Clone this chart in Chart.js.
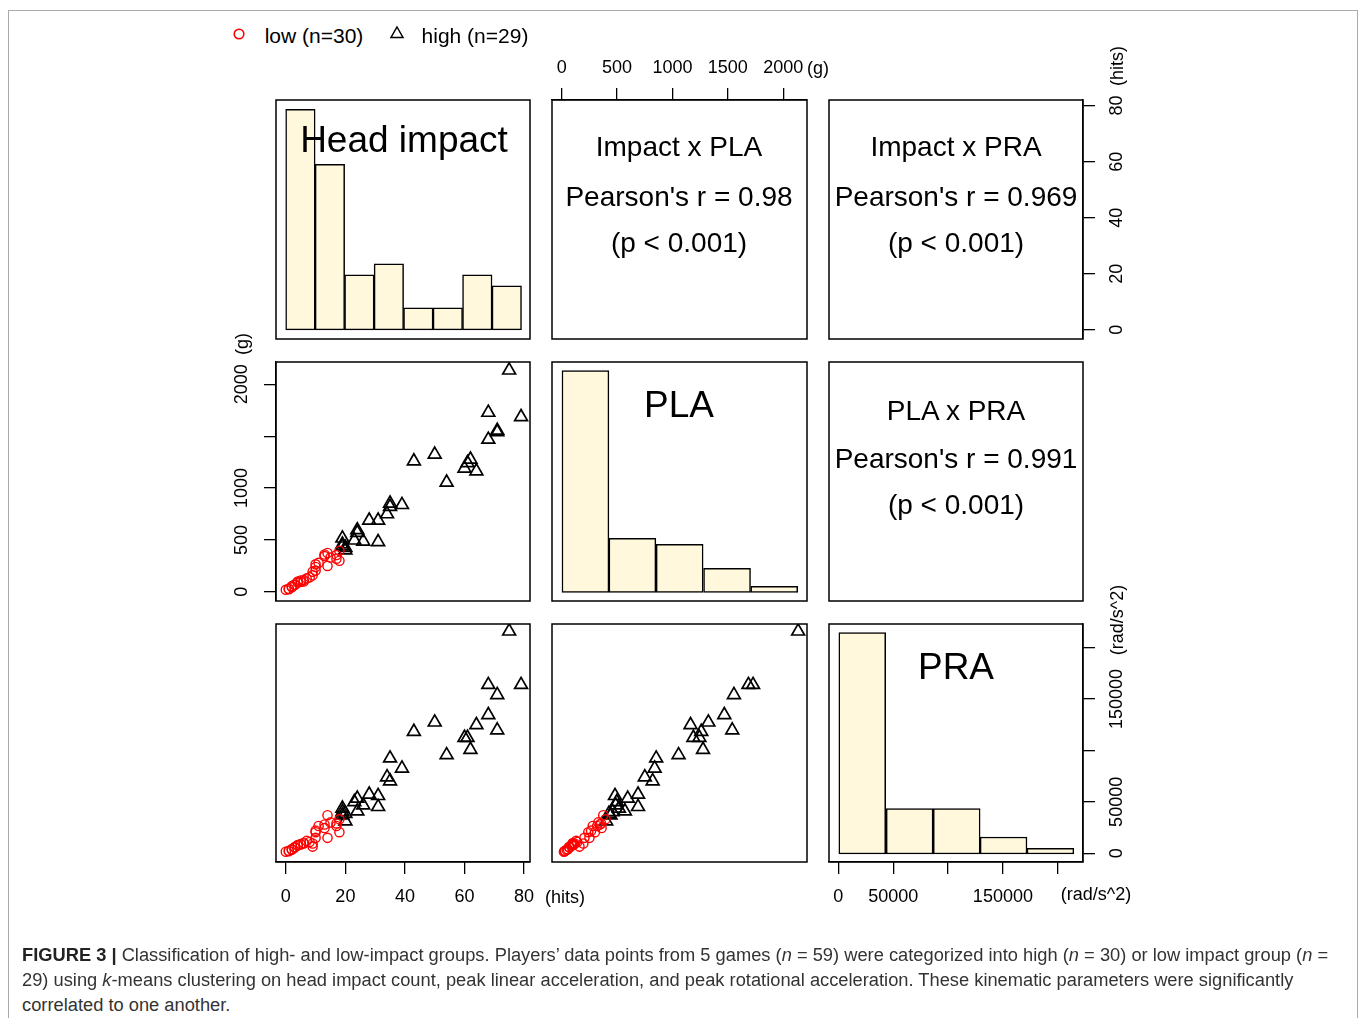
<!DOCTYPE html>
<html>
<head>
<meta charset="utf-8">
<script src="https://cdn.jsdelivr.net/npm/chart.js@4.4.1/dist/chart.umd.min.js"></script>
<style>
body { margin: 0; background: #fff; font-family: "Liberation Sans", Arial, sans-serif; }
#fig { position: relative; width: 1358px; height: 1018px; overflow: hidden; background: #fff; }
#fig canvas { position: absolute; }
.t { position: absolute; white-space: nowrap; color: #000; transform: translate(-50%, -50%); line-height: 1; }
.r { transform: translate(-50%, -50%) rotate(-90deg); }
.cap { position: absolute; left: 22px; white-space: nowrap; font-size: 18px; line-height: 25px; color: #333; transform-origin: 0 50%; }
</style>
</head>
<body>
<div id="fig">
  <div style="position:absolute;left:8px;top:10px;width:1348px;height:1030px;border:1px solid #aaa;"></div>
</div>
<script>
// players, low impact group (red circles)
const lowHits = [0, 1, 1, 2, 2, 3, 3, 4, 4, 5, 5, 6, 6, 7, 8, 9, 9, 10, 10, 10, 11, 13, 13, 14, 14, 15, 17, 17, 18, 18];
const lowPLA = [20, 30, 25, 45, 55, 70, 65, 90, 100, 95, 110, 115, 100, 130, 140, 160, 195, 240, 205, 265, 280, 360, 345, 375, 250, 330, 320, 355, 300, 395];
const lowPRA = [1500, 2500, 2000, 3500, 4000, 5500, 6000, 7500, 8000, 9000, 8500, 9500, 10000, 12000, 11000, 6500, 9500, 20500, 15000, 22000, 26500, 24500, 28000, 37000, 15000, 30000, 26500, 29000, 20500, 33000];

// high impact group (triangles)
const highHits = [75, 68, 79, 71, 71, 68, 43, 50, 62, 61, 60, 64, 54, 35, 35, 39, 34, 28, 31, 24, 24, 23, 26, 31, 19, 19, 20, 20, 19];
const highPLA = [2135, 1728, 1686, 1555, 1540, 1468, 1260, 1324, 1276, 1243, 1189, 1163, 1055, 853, 821, 839, 750, 689, 689, 596, 570, 497, 487, 481, 516, 459, 426, 401, 440];
const highPRA = [215900, 163900, 163900, 154100, 119700, 134600, 118300, 127400, 100800, 112500, 112500, 124900, 95600, 92400, 70200, 82600, 74100, 57300, 45200, 53300, 41000, 50000, 46800, 55900, 43600, 40300, 38600, 31200, 37000];

// histograms on the diagonal (bin middles and counts)
const hitsBins = [4.9, 14.8, 24.7, 34.6, 44.5, 54.4, 64.3, 74.2];
const hitsCounts = [20, 15, 5, 6, 2, 2, 5, 4];
const plaBins = [214, 638, 1065, 1493, 1919];
const plaCounts = [37, 9, 8, 4, 1];
const praBins = [21800, 65000, 107900, 150600, 193300];
const praCounts = [39, 8, 8, 3, 1];

// axis ticks
const hitsTicks = [0, 20, 40, 60, 80];
const plaTicks = [0, 500, 1000, 1500, 2000];
const praTicks = [0, 50000, 100000, 150000, 200000];
const plaLeftLabels = ['0', '500', '1000', '', '2000'];
const praLabels = ['0', '50000', '', '150000', ''];

// axis limits
const hitsLim = [-3.3, 82.0];
const plaLim = [-88, 2215];
const praLim = [-8500, 223000];
const hitsCountLim = [-0.82, 20.84];
const plaCountLim = [-1.45, 38.45];
const praCountLim = [-1.41, 40.5];

const FONT = '"Liberation Sans", Arial, sans-serif';
const colX = [276, 552, 829], colW = [254, 255, 254];
const rowY = [100, 362, 624], rowH = [239, 239, 238];
const PAD = 30;
const fig = document.getElementById('fig');

const boxPlugin = {
  id: 'box',
  afterDraw(chart) {
    const ctx = chart.ctx, a = chart.chartArea;
    ctx.save();
    ctx.strokeStyle = '#000';
    ctx.lineWidth = 1.5;
    ctx.strokeRect(a.left, a.top, a.right - a.left, a.bottom - a.top);
    ctx.restore();
  }
};

function axis(lim, ticks, o) {
  o = o || {};
  return {
    type: 'linear', min: lim[0], max: lim[1], offset: false,
    position: o.position,
    display: !!o.show,
    afterBuildTicks: s => { s.ticks = ticks.map(v => ({ value: v })); },
    afterFit: s => {
      if (o.size != null) {
        if (s.isHorizontal()) s.height = o.size; else s.width = o.size;
      }
    },
    grid: { display: true, offset: false, drawOnChartArea: false, drawTicks: true, tickLength: 12, color: '#000', lineWidth: 1.3 },
    border: { display: true, color: '#000', width: 1.3 },
    ticks: {
      font: { family: FONT, size: 18 }, color: '#000', padding: o.pad || 0,
      autoSkip: false, minRotation: o.rot || 0, maxRotation: o.rot || 0,
      crossAlign: o.rot ? 'center' : 'near',
      callback: (v, i) => o.labels ? o.labels[i] : String(v)
    }
  };
}

function panel(r, c, ax, config) {
  const a = Object.assign({ left: 0, right: 0, top: 0, bottom: 0 }, ax);
  const cv = document.createElement('canvas');
  const w = colW[c] + a.left + a.right + 2 * PAD;
  const h = rowH[r] + a.top + a.bottom + 2 * PAD;
  cv.width = w; cv.height = h;
  cv.style.width = w + 'px'; cv.style.height = h + 'px';
  cv.style.left = (colX[c] - a.left - PAD) + 'px';
  cv.style.top = (rowY[r] - a.top - PAD) + 'px';
  fig.appendChild(cv);
  config.options = Object.assign({
    responsive: false, animation: false, devicePixelRatio: 1,
    layout: { padding: PAD },
    plugins: { legend: { display: false }, tooltip: { enabled: false } }
  }, config.options);
  config.plugins = [boxPlugin];
  return new Chart(cv, config);
}

function pts(xs, ys) { return xs.map((x, i) => ({ x: x, y: ys[i] })); }

function scatterSets(xLow, yLow, xHigh, yHigh) {
  return [
    { data: pts(xLow, yLow), pointStyle: 'circle', pointRadius: 4.6, pointBorderWidth: 1.4,
      pointBorderColor: '#ff0000', pointBackgroundColor: 'rgba(0,0,0,0)', borderColor: '#ff0000', backgroundColor: 'rgba(0,0,0,0)' },
    { data: pts(xHigh, yHigh), pointStyle: 'triangle', pointRadius: 7.4, pointBorderWidth: 1.7,
      pointBorderColor: '#000', pointBackgroundColor: 'rgba(0,0,0,0)', borderColor: '#000', backgroundColor: 'rgba(0,0,0,0)' }
  ];
}

function histSet(bins, counts) {
  return [{
    data: pts(bins, counts), backgroundColor: '#FFF8DC', borderColor: '#000', borderWidth: 1.5,
    borderSkipped: false, barPercentage: 1, categoryPercentage: 1
  }];
}

// row 1
panel(0, 0, {}, {
  type: 'bar', data: { datasets: histSet(hitsBins, hitsCounts) },
  options: { scales: { x: axis(hitsLim, hitsTicks), y: axis(hitsCountLim, [0]) } }
});
panel(0, 1, { top: 60 }, {
  type: 'scatter', data: { datasets: [] },
  options: { scales: {
    x: axis(plaLim, plaTicks, { show: true, position: 'top', size: 60, pad: 9 }),
    y: axis(hitsLim, hitsTicks) } }
});
panel(0, 2, { right: 60 }, {
  type: 'scatter', data: { datasets: [] },
  options: { scales: {
    x: axis(praLim, praTicks),
    y: axis(hitsLim, hitsTicks, { show: true, position: 'right', size: 60, rot: 90, pad: 12 }) } }
});

// row 2
panel(1, 0, { left: 76 }, {
  type: 'scatter', data: { datasets: scatterSets(lowHits, lowPLA, highHits, highPLA) },
  options: { scales: {
    x: axis(hitsLim, hitsTicks),
    y: axis(plaLim, plaTicks, { show: true, position: 'left', size: 76, rot: 90, pad: 2, labels: plaLeftLabels }) } }
});
panel(1, 1, {}, {
  type: 'bar', data: { datasets: histSet(plaBins, plaCounts) },
  options: { scales: { x: axis(plaLim, plaTicks), y: axis(plaCountLim, [0]) } }
});
panel(1, 2, {}, {
  type: 'scatter', data: { datasets: [] },
  options: { scales: { x: axis(praLim, praTicks), y: axis(plaLim, plaTicks) } }
});

// row 3
panel(2, 0, { bottom: 60 }, {
  type: 'scatter', data: { datasets: scatterSets(lowHits, lowPRA, highHits, highPRA) },
  options: { scales: {
    x: axis(hitsLim, hitsTicks, { show: true, position: 'bottom', size: 60, pad: 12 }),
    y: axis(praLim, praTicks) } }
});
panel(2, 1, {}, {
  type: 'scatter', data: { datasets: scatterSets(lowPLA, lowPRA, highPLA, highPRA) },
  options: { scales: { x: axis(plaLim, plaTicks), y: axis(praLim, praTicks) } }
});
panel(2, 2, { bottom: 60, right: 60 }, {
  type: 'bar', data: { datasets: histSet(praBins, praCounts) },
  options: { scales: {
    x: axis(praLim, praTicks, { show: true, position: 'bottom', size: 60, pad: 12, labels: praLabels }),
    y: axis(praCountLim, [0]),
    y2: axis(praLim, praTicks, { show: true, position: 'right', size: 60, rot: 90, pad: -8, labels: praLabels }) } }
});

// text layer
const texts = [
  ['Head impact', 404, 139, 37], ['PLA', 679, 404, 37], ['PRA', 956, 666, 37],
  ['Impact x PLA', 679, 147, 28], ["Pearson's r = 0.98", 679, 197, 28], ['(p < 0.001)', 679, 243, 28],
  ['Impact x PRA', 956, 147, 28], ["Pearson's r = 0.969", 956, 197, 28], ['(p < 0.001)', 956, 243, 28],
  ['PLA x PRA', 956, 411, 28], ["Pearson's r = 0.991", 956, 459, 28], ['(p < 0.001)', 956, 505, 28],
  ['(g)', 818, 68, 18], ['(hits)', 565, 897, 18], ['(rad/s^2)', 1096, 894, 18],
  ['low (n=30)', 314, 35, 21], ['high (n=29)', 475, 35, 21]
];
texts.forEach(t => {
  const d = document.createElement('div');
  d.className = 't';
  d.textContent = t[0];
  d.style.left = t[1] + 'px'; d.style.top = t[2] + 'px'; d.style.fontSize = t[3] + 'px';
  fig.appendChild(d);
});
const rotTexts = [['(hits)', 1117, 66], ['(g)', 242, 344], ['(rad/s^2)', 1117, 620]];
rotTexts.forEach(t => {
  const d = document.createElement('div');
  d.className = 't r';
  d.textContent = t[0];
  d.style.left = t[1] + 'px'; d.style.top = t[2] + 'px'; d.style.fontSize = '18px';
  fig.appendChild(d);
});

// legend symbols
fig.insertAdjacentHTML('beforeend',
  '<svg style="position:absolute;left:232px;top:27px" width="14" height="14"><circle cx="7" cy="7" r="4.8" fill="none" stroke="#ff0000" stroke-width="1.6"/></svg>' +
  '<svg style="position:absolute;left:389px;top:25px" width="16" height="16"><polygon points="8,2 14,12.5 2,12.5" fill="none" stroke="#000" stroke-width="1.5"/></svg>');

// caption
const capLines = [
  '<b style="color:#222">FIGURE 3 |</b> Classification of high- and low-impact groups. Players\u2019 data points from 5 games (<i>n</i> = 59) were categorized into high (<i>n</i> = 30) or low impact group (<i>n</i> =',
  '29) using <i>k</i>-means clustering on head impact count, peak linear acceleration, and peak rotational acceleration. These kinematic parameters were significantly',
  'correlated to one another.'
];
const capDivs = capLines.map((html, i) => {
  const d = document.createElement('div');
  d.className = 'cap';
  d.innerHTML = html;
  d.style.top = (943 + i * 25) + 'px';
  fig.appendChild(d);
  return d;
});
const sx = 1306 / capDivs[0].getBoundingClientRect().width;
capDivs.forEach(d => { d.style.transform = 'scaleX(' + sx.toFixed(3) + ')'; });
</script>
</body>
</html>
